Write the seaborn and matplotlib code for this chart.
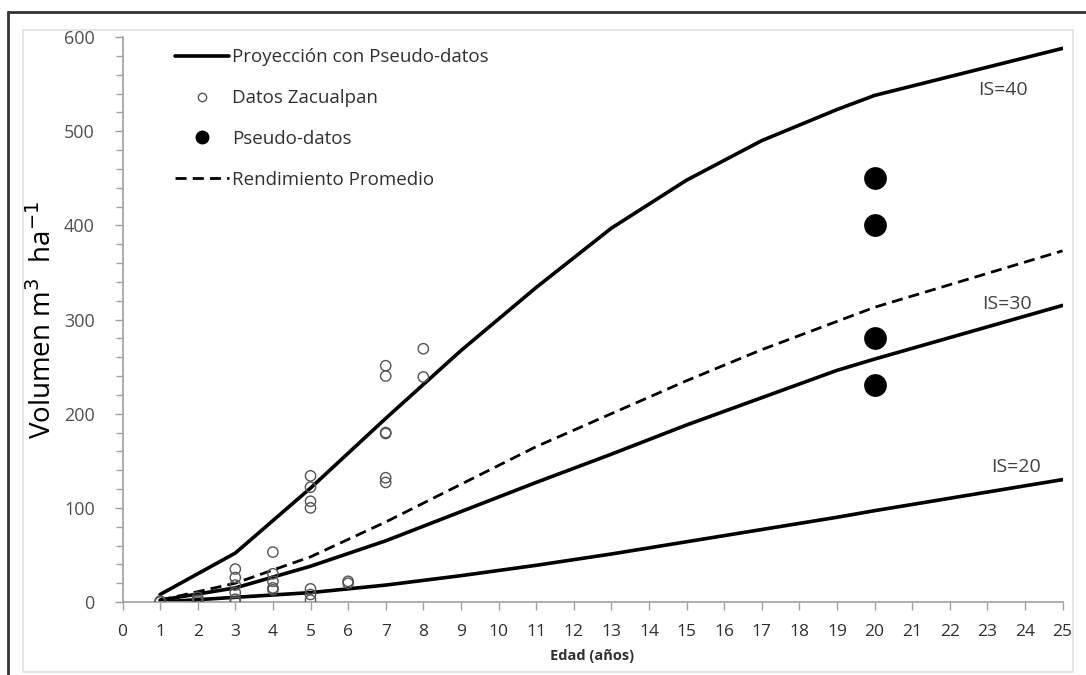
import numpy as np
import pandas as pd
import matplotlib
matplotlib.use('Agg')
import matplotlib.pyplot as plt
import seaborn as sns
from matplotlib.lines import Line2D
from matplotlib.patches import Rectangle
from matplotlib.ticker import MultipleLocator

# ============================================
# Datos
# ============================================
EDAD = [1, 3, 5, 7, 9, 11, 13, 15, 17, 19, 20, 25]
IS40 = [8, 52, 121, 195, 267, 334, 397, 448, 490, 523, 538, 588]
IS30 = [2, 15, 38, 65, 96, 127, 157, 188, 217, 246, 258, 315]
IS20 = [0, 5, 10, 18, 28, 39, 51, 64, 77, 90, 97, 130]
PROMEDIO = [2, 20, 48, 85, 125, 165, 200, 235, 268, 298, 313, 373]

ZAC_X = [1, 1, 2, 2, 2, 3, 3, 3, 3, 3, 3, 4, 4, 4, 4, 4, 5, 5, 5, 5, 5, 5, 5,
         6, 6, 7, 7, 7, 7, 7, 7, 8, 8]
ZAC_Y = [0, 1, 0, 2, 5, 0, 3, 10, 18, 26, 35, 13, 15, 22, 30, 53, 2, 8, 14,
         100, 107, 122, 134, 20, 22, 127, 132, 179, 180, 240, 251, 239, 269]

PSEUDO_X = [20, 20, 20, 20]
PSEUDO_Y = [450, 400, 280, 230]

CURVAS = {'IS=40': IS40, 'IS=30': IS30, 'IS=20': IS20}
ETIQUETAS = [('IS=40', 22.75, 538), ('IS=30', 22.85, 311), ('IS=20', 23.1, 138)]

# ============================================
# Estilo
# ============================================
sns.set_style('ticks')
plt.rcParams['font.family'] = ['Open Sans', 'DejaVu Sans']

fig = plt.figure(figsize=(10.86, 6.75), dpi=100)
ax = fig.add_axes([0.1128, 0.1081, 0.8656, 0.837])

df_curvas = pd.concat([
    pd.DataFrame({'edad': EDAD, 'vol': v, 'curva': k}) for k, v in CURVAS.items()
])
for k in CURVAS:
    sns.lineplot(data=df_curvas[df_curvas['curva'] == k], x='edad', y='vol',
                 color='black', linewidth=2.6, ax=ax, legend=False)

sns.lineplot(x=EDAD, y=PROMEDIO, color='black', linewidth=2.0,
             linestyle=(0, (4, 2.2)), ax=ax, legend=False)

sns.scatterplot(x=ZAC_X, y=ZAC_Y, marker='o', s=55, facecolor='none',
                edgecolor='#555555', linewidth=1.0, ax=ax, zorder=3)
sns.scatterplot(x=PSEUDO_X, y=PSEUDO_Y, marker='o', s=230, color='black',
                edgecolor='black', ax=ax, zorder=4)

for txt, xx, yy in ETIQUETAS:
    ax.text(xx, yy, txt, fontsize=14, color='#404040', ha='left', va='baseline')

# ============================================
# Ejes
# ============================================
ax.set_xlim(0, 25)
ax.set_ylim(0, 600)
ax.xaxis.set_major_locator(MultipleLocator(1))
ax.yaxis.set_major_locator(MultipleLocator(100))
ax.yaxis.set_minor_locator(MultipleLocator(20))
ax.tick_params(axis='x', which='major', length=6, width=1, color='#a0a0a0',
               labelsize=12.5, labelcolor='#303030', pad=10)
ax.tick_params(axis='y', which='major', length=6, width=1, color='#a0a0a0',
               labelsize=13, labelcolor='#505050', pad=14)
ax.tick_params(axis='y', which='minor', length=5, width=1, color='#a0a0a0')
for s in ['top', 'right']:
    ax.spines[s].set_visible(False)
for s in ['left', 'bottom']:
    ax.spines[s].set_color('#a0a0a0')
    ax.spines[s].set_linewidth(1.2)

ax.set_xlabel('Edad (años)', fontsize=10.5, fontweight='bold', color='#303030',
              labelpad=6)
ax.set_ylabel('Volumen m$^3$  ha$^{-1}$', fontsize=20, color='black',
              labelpad=4)

handles = [
    Line2D([], [], color='black', linewidth=2.6),
    Line2D([], [], marker='o', linestyle='none', markerfacecolor='none',
           markeredgecolor='#555555', markersize=6),
    Line2D([], [], marker='o', linestyle='none', color='black', markersize=9),
    Line2D([], [], color='black', linewidth=2.0, linestyle=(0, (4, 2.2))),
]
labels = ['Proyección con Pseudo-datos', 'Datos Zacualpan', 'Pseudo-datos',
          'Rendimiento Promedio']
ax.legend(handles, labels, loc='upper left', bbox_to_anchor=(0.038, 1.01),
          frameon=False, fontsize=13.5, labelspacing=1.22, handlelength=2.9,
          handletextpad=0.15, labelcolor='#303030')

# marcos de la figura
fig.patches.append(Rectangle((0.021, 0.004), 0.967, 0.952, transform=fig.transFigure,
                             fill=False, edgecolor='#e0e0e0', linewidth=1.2))
fig.add_artist(Line2D([0.0075, 0.0075], [0, 0.982], color='#333333', linewidth=2,
                      transform=fig.transFigure))
fig.add_artist(Line2D([0.0075, 1], [0.982, 0.982], color='#333333', linewidth=2,
                      transform=fig.transFigure))

fig.savefig('out.png', dpi=100)
